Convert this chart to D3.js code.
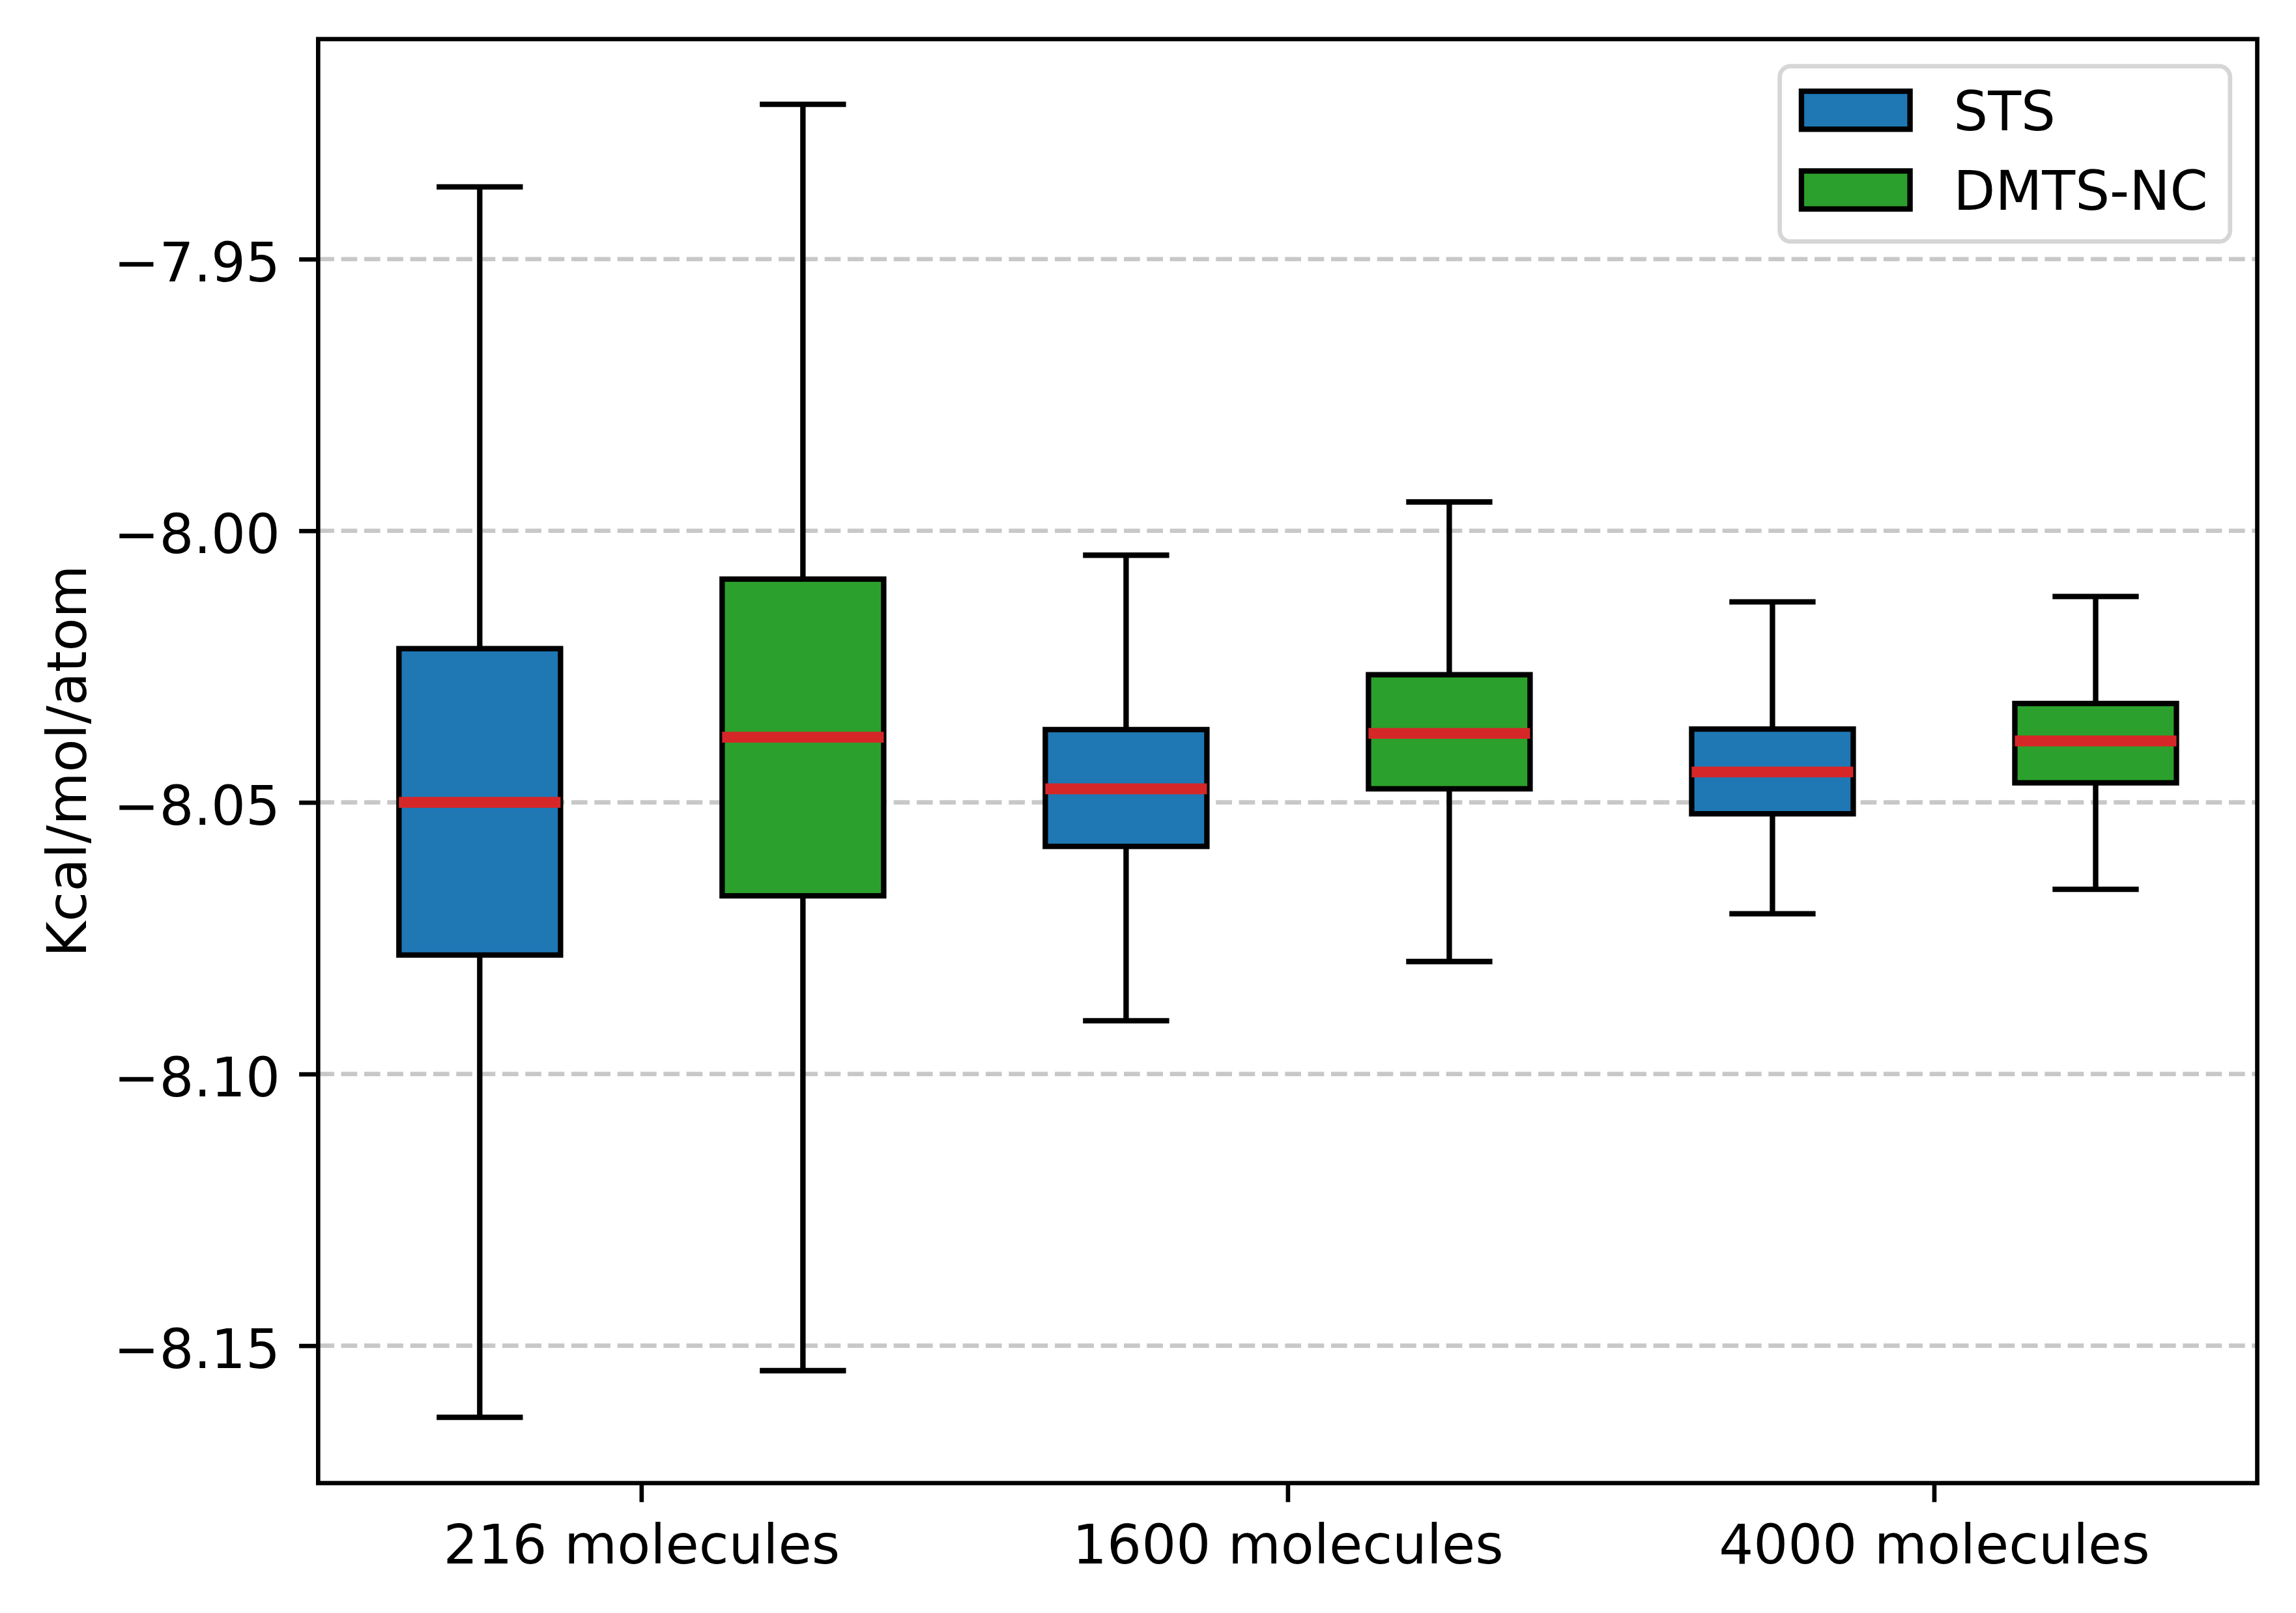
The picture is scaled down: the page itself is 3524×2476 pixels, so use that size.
<!DOCTYPE html>
<html>
<head>
<meta charset="utf-8">
<script src="https://cdn.jsdelivr.net/npm/d3@7"></script>
<style>
  html, body { margin: 0; padding: 0; background: #ffffff; }
  svg { display: block; }
  text { font-family: "DejaVu Sans", sans-serif; }
</style>
</head>
<body>
<script>
// ---------------- data ----------------
const categories = ["216 molecules", "1600 molecules", "4000 molecules"];
const seriesNames = ["STS", "DMTS-NC"];
const seriesColors = ["#1f77b4", "#2ca02c"];
const yTicks = [-7.95, -8.00, -8.05, -8.10, -8.15];
const yLabel = "Kcal/mol/atom";

// per series, one entry per category
const stsWhiskerLow  = [-8.1632, -8.0902, -8.0705];
const stsQ1          = [-8.0781, -8.0581, -8.0521];
const stsMedian      = [-8.0500, -8.0475, -8.0444];
const stsQ3          = [-8.0217, -8.0366, -8.0365];
const stsWhiskerHigh = [-7.9367, -8.0045, -8.0131];

const dmtsWhiskerLow  = [-8.1546, -8.0793, -8.0660];
const dmtsQ1          = [-8.0672, -8.0475, -8.0464];
const dmtsMedian      = [-8.0380, -8.0373, -8.0387];
const dmtsQ3          = [-8.0089, -8.0265, -8.0318];
const dmtsWhiskerHigh = [-7.9215, -7.9947, -8.0121];

(function () {
// ---------------- layout ----------------
const W = 3524, H = 2476;
const PT = 600 / 72;                 // px per point
const FS = 10 * PT;                  // 10pt font
const axL = 488.3, axR = 3464.5, axT = 60, axB = 2276.6;

const svg = d3.select("body").append("svg")
  .attr("width", W).attr("height", H)
  .attr("viewBox", `0 0 ${W} ${H}`);
svg.append("rect").attr("width", W).attr("height", H).attr("fill", "#ffffff");

const x = d3.scaleLinear().domain([0.5, 3.5]).range([axL, axR]);
const y = d3.scaleLinear().domain([-8.1753, -7.9095]).range([axB, axT]);

// gridlines
const grid = svg.append("g");
grid.selectAll("line").data(yTicks).join("line")
  .attr("x1", axL).attr("x2", axR)
  .attr("y1", d => y(d)).attr("y2", d => y(d))
  .attr("stroke", "#b0b0b0").attr("stroke-opacity", 0.7)
  .attr("stroke-width", 0.8 * PT)
  .attr("stroke-dasharray", `${3.7 * 0.8 * PT},${1.6 * 0.8 * PT}`);

// boxes
const boxData = [];
const stats = [
  [stsWhiskerLow, stsQ1, stsMedian, stsQ3, stsWhiskerHigh],
  [dmtsWhiskerLow, dmtsQ1, dmtsMedian, dmtsQ3, dmtsWhiskerHigh]
];
categories.forEach((c, i) => {
  seriesNames.forEach((s, j) => {
    const st = stats[j];
    boxData.push({
      pos: (i + 1) + (j === 0 ? -0.25 : 0.25),
      lo: st[0][i], q1: st[1][i], med: st[2][i], q3: st[3][i], hi: st[4][i],
      color: seriesColors[j]
    });
  });
});

const boxW = 0.25, capW = 0.125;
const lw = 1.0 * PT;
const g = svg.append("g");
boxData.forEach(b => {
  const bx0 = x(b.pos - boxW / 2), bx1 = x(b.pos + boxW / 2);
  g.append("rect")
    .attr("x", bx0).attr("y", y(b.q3))
    .attr("width", bx1 - bx0).attr("height", y(b.q1) - y(b.q3))
    .attr("fill", b.color).attr("stroke", "#000").attr("stroke-width", lw);
  [[b.q1, b.lo], [b.q3, b.hi]].forEach(([a, e]) => {
    g.append("line")
      .attr("x1", x(b.pos)).attr("x2", x(b.pos))
      .attr("y1", y(a)).attr("y2", y(e))
      .attr("stroke", "#000").attr("stroke-width", lw);
  });
  [b.lo, b.hi].forEach(v => {
    g.append("line")
      .attr("x1", x(b.pos - capW / 2)).attr("x2", x(b.pos + capW / 2))
      .attr("y1", y(v)).attr("y2", y(v))
      .attr("stroke", "#000").attr("stroke-width", lw)
      .attr("stroke-linecap", "square");
  });
  g.append("line")
    .attr("x1", bx0).attr("x2", bx1)
    .attr("y1", y(b.med)).attr("y2", y(b.med))
    .attr("stroke", "#d62728").attr("stroke-width", 2 * PT);
});

// axes
const tickLen = 3.5 * PT;
const yAxis = d3.axisLeft(y).tickValues(yTicks).tickFormat(d3.format(".2f"))
  .tickSize(tickLen).tickPadding(tickLen);
const ya = svg.append("g").attr("transform", `translate(${axL},0)`).call(yAxis);
ya.select(".domain").remove();
ya.selectAll(".tick line").attr("stroke", "#000").attr("stroke-width", 0.8 * PT);
ya.selectAll(".tick text").attr("font-size", FS).attr("fill", "#000")
  .attr("font-family", "DejaVu Sans").attr("dy", "0.41em");

const xAxis = d3.axisBottom(x).tickValues([1, 2, 3])
  .tickFormat((d, i) => categories[i]).tickSize(tickLen).tickPadding(tickLen);
const xa = svg.append("g").attr("transform", `translate(0,${axB})`).call(xAxis);
xa.select(".domain").remove();
xa.selectAll(".tick line").attr("stroke", "#000").attr("stroke-width", 0.8 * PT);
xa.selectAll(".tick text").attr("font-size", FS).attr("fill", "#000")
  .attr("font-family", "DejaVu Sans").attr("dy", "0.78em");

// spines
svg.append("rect")
  .attr("x", axL).attr("y", axT)
  .attr("width", axR - axL).attr("height", axB - axT)
  .attr("fill", "none").attr("stroke", "#000").attr("stroke-width", 0.8 * PT)
  .attr("stroke-linejoin", "miter");

// y label
svg.append("text")
  .attr("transform", `translate(131.7,${(axT + axB) / 2}) rotate(-90)`)
  .attr("text-anchor", "middle")
  .attr("font-size", FS).attr("fill", "#000")
  .text(yLabel);

// legend
const lgX0 = 2731.6, lgY0 = 101.7, lgX1 = 3422.8, lgY1 = 370.7;
const lg = svg.append("g");
lg.append("rect")
  .attr("x", lgX0).attr("y", lgY0)
  .attr("width", lgX1 - lgX0).attr("height", lgY1 - lgY0)
  .attr("rx", 0.2 * FS).attr("ry", 0.2 * FS)
  .attr("fill", "#ffffff").attr("fill-opacity", 0.8)
  .attr("stroke", "#cccccc").attr("stroke-opacity", 0.8)
  .attr("stroke-width", 0.8 * PT);
const handleX = lgX0 + 0.4 * FS;
const rowCenters = [169.2, 291.6];
seriesNames.forEach((s, j) => {
  lg.append("rect")
    .attr("x", handleX).attr("y", rowCenters[j] - 0.35 * FS)
    .attr("width", 2.0 * FS).attr("height", 0.7 * FS)
    .attr("fill", seriesColors[j]).attr("stroke", "#000").attr("stroke-width", lw);
  lg.append("text")
    .attr("x", handleX + 2.0 * FS + 0.8 * FS)
    .attr("y", rowCenters[j] + 30.3)
    .attr("font-size", FS).attr("fill", "#000")
    .text(s);
});
})();
</script>
</body>
</html>
